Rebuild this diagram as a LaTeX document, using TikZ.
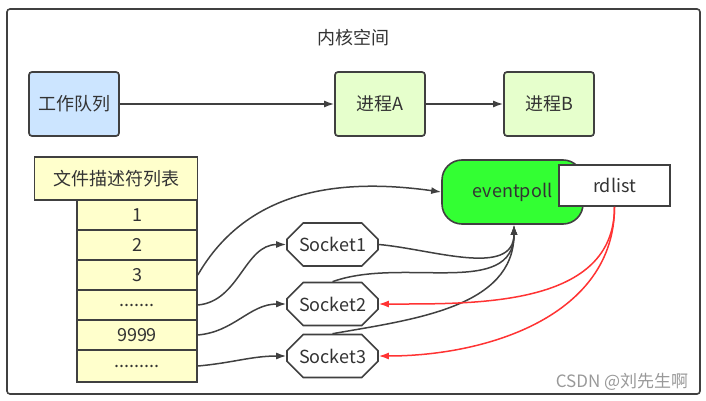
\documentclass[tikz,border=0pt]{standalone}
\usepackage{fontspec}
\setmainfont{Noto Sans CJK SC}
\usetikzlibrary{arrows.meta,shapes.misc}

\definecolor{linegray}{HTML}{404040}
\definecolor{textgray}{HTML}{333333}
\definecolor{queueblue}{HTML}{CCE5FF}
\definecolor{procgreen}{HTML}{E6FFCC}
\definecolor{cellyellow}{HTML}{FFFFCC}
\definecolor{epgreen}{HTML}{33FF33}
\definecolor{rdred}{HTML}{FF3333}

\tikzset{
  every node/.style={text=textgray, font=\fontsize{18}{20}\selectfont},
  box/.style={draw=linegray, line width=1.7pt, rounded corners=3pt,
    minimum width=90pt, minimum height=64pt},
  cell/.style={draw=linegray, line width=1.6pt, fill=cellyellow,
    minimum width=120pt, minimum height=30pt},
  sock/.style={draw=linegray, line width=1.6pt, fill=white, chamfered rectangle,
    chamfered rectangle xsep=9pt, chamfered rectangle ysep=9pt,
    minimum width=91pt, minimum height=43pt, inner sep=0pt},
  arr/.style={draw=linegray, line width=1.5pt, -{Latex[length=10pt,width=7pt]}},
  redarr/.style={draw=rdred, line width=1.5pt, -{Latex[length=10pt,width=7pt]}}
}

\begin{document}
\begin{tikzpicture}[x=1pt,y=-1pt]
\useasboundingbox (0,0) rectangle (706,401);
\draw[linegray, line width=1.6pt, rounded corners=3pt] (7,9) rectangle (700,394);
\node (kernel) at (353,38) {内核空间};

\node[box, fill=queueblue] (wq) at (74,104) {工作队列};
\node[box, fill=procgreen] (pa) at (380,104) {进程A};
\node[box, fill=procgreen] (pb) at (549,104) {进程B};

\node[cell, minimum width=163pt, minimum height=43pt] (fdt) at (116,178.5) {文件描述符列表};
\node[cell] (c1) at (137,215) {1};
\node[cell] (c2) at (137,245) {2};
\node[cell] (c3) at (137,275) {3};
\node[cell] (c4) at (137,305) {.......};
\node[cell] (c5) at (137,335) {9999};
\node[cell, minimum height=32pt] (c6) at (137,366) {.........};

\node[sock] (s1) at (332.5,244.5) {Socket1};
\node[sock] (s2) at (332.5,304) {Socket2};
\node[sock] (s3) at (332.5,356) {Socket3};

\node[draw=linegray, line width=1.6pt, fill=epgreen, rounded corners=20pt,
  minimum width=141pt, minimum height=64pt] (ep) at (512.5,192) {eventpoll};
\node[draw=linegray, line width=1.6pt, fill=white, minimum width=111pt,
  minimum height=41pt] (rd) at (614.5,185.5) {rdlist};

\path[arr] (wq) -- (pa);
\path[arr] (pa) -- (pb);

\path[arr] (c3.east) to[out=60, in=172] (ep.west);
\path[arr] (c4.east) to[out=5, in=180] (s1.west);
\path[arr] (c5.east) to[out=5, in=180] (s2.west);
\path[arr] (c6.east) to[out=5, in=180] (s3.west);

\path[arr] (s1.east) to[out=-5, in=270] ([xshift=1.5pt]ep.south);
\path[arr] (s2.north) to[out=20, in=270] ([xshift=1.5pt]ep.south);
\path[arr] (s3.north) to[out=10, in=270] ([xshift=1.5pt]ep.south);

\path[redarr] (rd.south) to[out=270, in=0] (s2.east);
\path[redarr] (rd.south) to[out=270, in=0] (s3.east);

\node[font=\fontsize{17}{19}\selectfont, text=black!40] (mark) at (622,382) {CSDN @刘先生啊};
\end{tikzpicture}
\end{document}
